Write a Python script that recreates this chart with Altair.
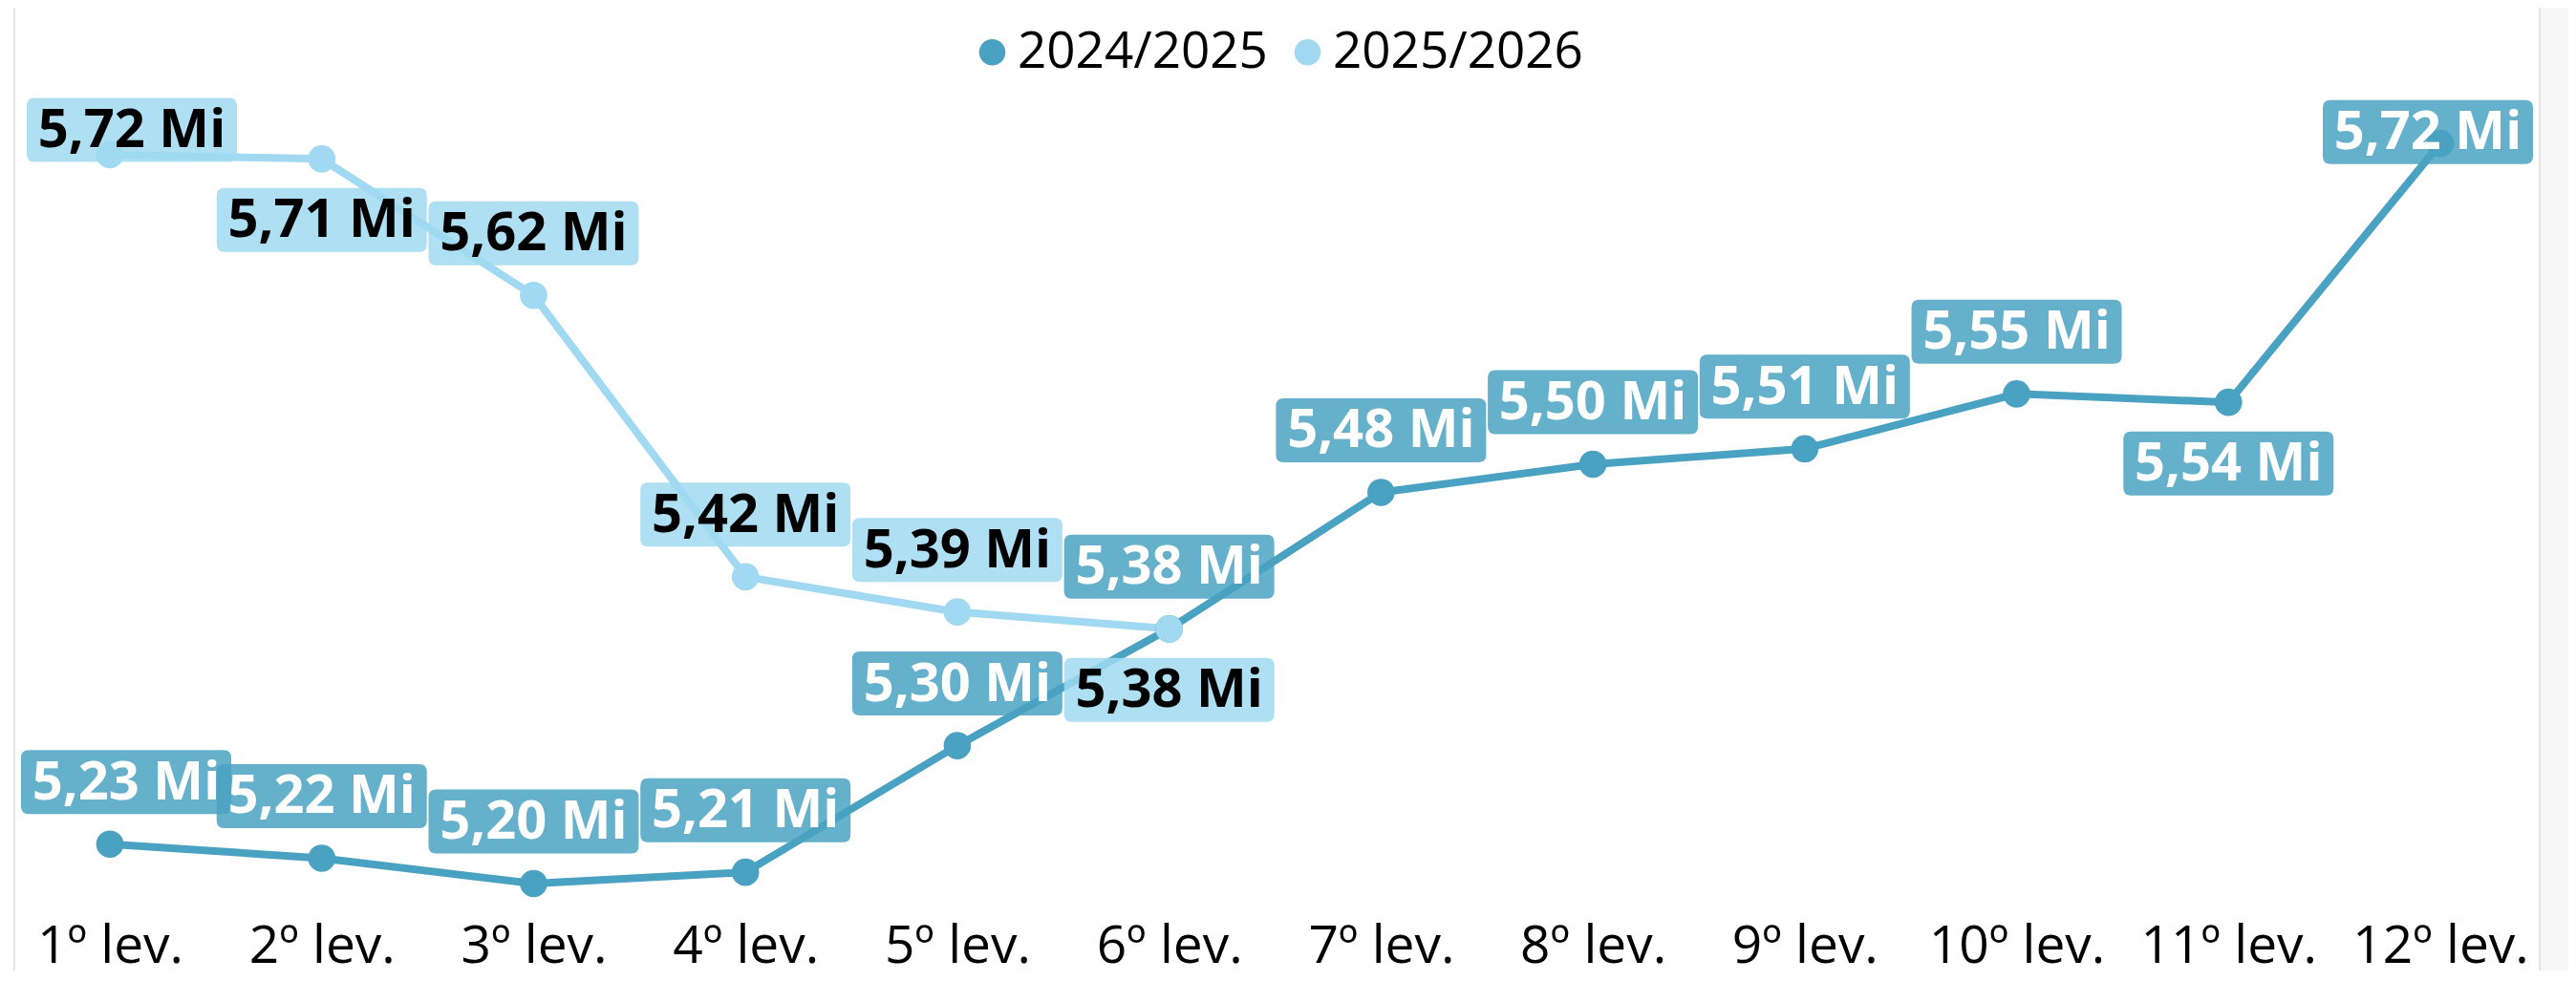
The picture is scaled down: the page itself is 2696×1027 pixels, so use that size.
import altair as alt
import pandas as pd

categories = ["1º lev.", "2º lev.", "3º lev.", "4º lev.", "5º lev.", "6º lev.",
              "7º lev.", "8º lev.", "9º lev.", "10º lev.", "11º lev.", "12º lev."]
series_names = ["2024/2025", "2025/2026"]
values_2425 = [5.226, 5.216, 5.198, 5.206, 5.296, 5.379, 5.476, 5.496, 5.507, 5.546, 5.540, 5.724]
values_2526 = [5.716, 5.713, 5.616, 5.416, 5.391, 5.379]

# where each data label sits relative to its point (style)
label_side_2425 = ["above_left_edge"] + ["above"] * 9 + ["below", "corner_right"]
label_side_2526 = ["corner_left", "below", "above", "above", "above", "below"]

DARK = "#4aa2c2"
LIGHT = "#a0d9f1"
FONT = "Open Sans"

rows = []
for c, v, s in zip(categories, values_2425, label_side_2425):
    rows.append({"cat": c, "value": v, "series": series_names[0], "side": s})
for c, v, s in zip(categories, values_2526, label_side_2526):
    rows.append({"cat": c, "value": v, "series": series_names[1], "side": s})
df = pd.DataFrame(rows)

W, H = 2653, 942

base = alt.Chart(df).transform_calculate(
    lbl="replace(format(datum.value, '.2f'), '.', ',') + ' Mi'"
)

x = alt.X("cat:N", sort=categories,
          scale=alt.Scale(type="point", padding=0.4826),
          axis=alt.Axis(title=None, labelAngle=0, domain=False, ticks=False, grid=False,
                        labelFont=FONT, labelFontSize=55, labelColor="#000000",
                        labelPadding=14, labelLimit=600))
y = alt.Y("value:Q", scale=alt.Scale(domain=[5.181, 5.8205], zero=False, nice=False),
          axis=None)

is_first = alt.datum.series == series_names[0]
series_color = alt.condition(is_first, alt.value(DARK), alt.value(LIGHT))

color_legend = alt.Color("series:N", scale=alt.Scale(domain=series_names, range=[DARK, LIGHT]),
                         legend=alt.Legend(title=None, orient="none", legendX=1004, legendY=20,
                                           direction="horizontal", labelFont=FONT,
                                           labelFontSize=53, labelColor="#000000",
                                           symbolType="circle", symbolSize=760,
                                           symbolOpacity=1, symbolStrokeWidth=0,
                                           labelOffset=0, columnPadding=15, padding=0,
                                           labelLimit=600))

lines = base.mark_line(strokeWidth=8).encode(x=x, y=y, detail="series:N", color=series_color)
points = base.mark_circle(size=820, opacity=1).encode(x=x, y=y, color=color_legend)

placements = {
    "above": (0, -65),
    "above_left_edge": (17, -65),
    "below": (0, 64),
    "corner_left": (23, -26),
    "corner_right": (-13, -12),
}

K = 100.0


def rr_path(cx, cy, w, h, r):
    x0, x1 = (cx - w / 2) / K, (cx + w / 2) / K
    y0, y1 = (cy - h / 2) / K, (cy + h / 2) / K
    q = r / K
    f = lambda a: f"{a:.4f}"
    return (f"M{f(x0+q)},{f(y0)} L{f(x1-q)},{f(y0)} Q{f(x1)},{f(y0)} {f(x1)},{f(y0+q)} "
            f"L{f(x1)},{f(y1-q)} Q{f(x1)},{f(y1)} {f(x1-q)},{f(y1)} "
            f"L{f(x0+q)},{f(y1)} Q{f(x0)},{f(y1)} {f(x0)},{f(y1-q)} "
            f"L{f(x0)},{f(y0+q)} Q{f(x0)},{f(y0)} {f(x0+q)},{f(y0)} Z")


box_layers = []
text_layers = []
for side, (dx, dy) in placements.items():
    sub = base.transform_filter(alt.datum.side == side)
    box_layers.append(
        sub.mark_point(shape=rr_path(dx, dy, 220, 67, 8), size=(2 * K) ** 2, filled=True,
                       opacity=0.85, strokeWidth=0).encode(x=x, y=y, color=series_color)
    )
    text_layers.append(
        sub.mark_text(dx=dx, dy=dy + 1, font=FONT, fontWeight="bold", fontSize=56,
                      align="center", baseline="middle").encode(
            x=x, y=y, text="lbl:N",
            color=alt.condition(is_first, alt.value("#ffffff"), alt.value("#000000")))
    )

deco_df = pd.DataFrame({"a": [0]})
right_panel = alt.Chart(deco_df).mark_rect(color="#f7f7f7").encode(
    x=alt.value(2650), x2=alt.value(2680), y=alt.value(0), y2=alt.value(1008))
right_line = alt.Chart(deco_df).mark_rect(color="#e4e4e4").encode(
    x=alt.value(2649), x2=alt.value(2651), y=alt.value(0), y2=alt.value(1008))
left_line = alt.Chart(deco_df).mark_rect(color="#e8e8e8").encode(
    x=alt.value(6), x2=alt.value(8), y=alt.value(0), y2=alt.value(1008))

chart = alt.layer(right_panel, right_line, left_line, lines, points, *box_layers, *text_layers).properties(
    width=W, height=H, padding={"left": 0, "top": 0, "right": 0, "bottom": 6},
    background="#ffffff"
).configure_view(stroke=None)

chart.save("out.html", embed_options={"renderer": "svg", "actions": False})
